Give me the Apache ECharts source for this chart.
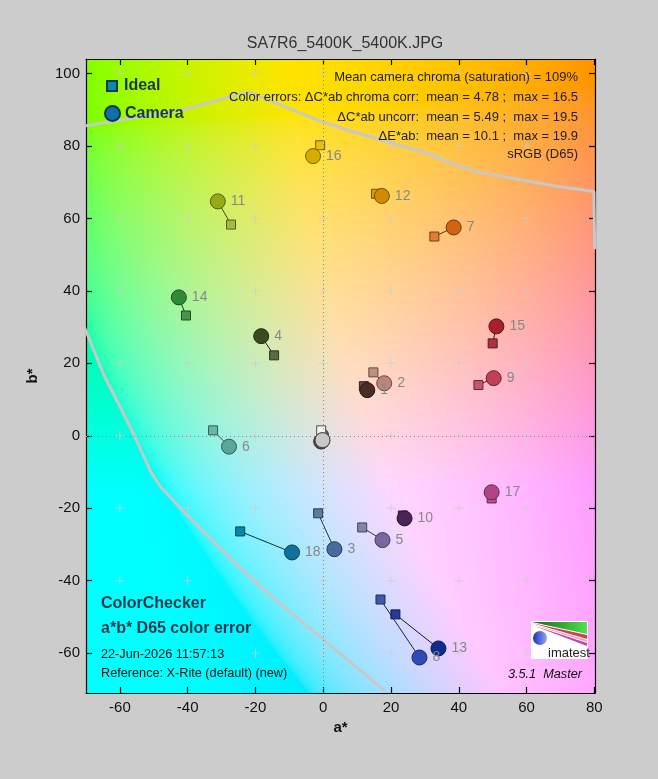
<!DOCTYPE html>
<html>
<head>
<meta charset="utf-8">
<script src="https://cdn.jsdelivr.net/npm/echarts@6/dist/echarts.min.js"></script>
<style>
html,body{margin:0;padding:0;background:#cccccc;}
#chart{width:658px;height:779px;}
</style>
</head>
<body>
<div id="chart"></div>
<script>
// ---------- data ----------
const patchNames = ['1','2','3','4','5','6','7','8','9','10','11','12','13','14','15','16','17','18','24','23','22','21','20','19'];
const idealA = [12.0, 14.8, -1.5, -14.5, 11.5, -32.5, 32.8, 16.9, 45.8, 23.5, -27.2, 15.6, 21.3, -40.5, 50.0, -0.9, 49.7, -24.5, 0.2, 0.0, 0.0, -0.1, -0.3, -0.6];
const idealB = [13.7, 17.5, -21.4, 22.2, -25.3, 1.5, 55.0, -45.2, 14.0, -22.0, 58.3, 66.8, -49.3, 33.2, 25.5, 80.2, -17.3, -26.4, -0.5, -0.3, -0.2, 0.0, 0.3, 1.5];
const cameraA = [13.0, 18.0, 3.3, -18.3, 17.5, -27.8, 38.5, 28.4, 50.3, 24.0, -31.1, 17.3, 34.0, -42.6, 51.1, -3.0, 49.7, -9.2, -0.6, -0.5, -0.4, -0.35, -0.3, -0.2];
const cameraB = [12.6, 14.5, -31.3, 27.5, -28.8, -3.0, 57.5, -61.2, 15.9, -22.8, 64.7, 66.2, -58.7, 38.2, 30.2, 77.2, -15.6, -32.2, -1.6, -1.5, -1.4, -1.35, -1.3, -1.2];
const xTicks = [-60, -40, -20, 0, 20, 40, 60, 80];
const yTicks = [-60, -40, -20, 0, 20, 40, 60, 80, 100];
// sRGB gamut boundary lines
const gamutUpperA = [-70.5, -40.9, -28.1, -21.7, -1.0, 6.4, 31.6, 38.4, 46.3, 68.0, 79.9, 80.1];
const gamutUpperB = [85.5, 90.1, 93.4, 94.8, 86.9, 84.6, 77.7, 75.0, 72.7, 69.0, 67.4, 51.5];
const gamutLowerA = [-70.5, -64.6, -60.6, -55.7, -50.8, -47.8, -40.9, -31.1, -24.6, -17.2, 18.2];
const gamutLowerB = [30.0, 16.5, 9.2, 0.0, -10.1, -14.3, -21.2, -30.4, -36.4, -42.8, -70.4];

// ---------- styles ----------
const cameraColors = ['#4a2c26','#b8867a','#4a6a9c','#3c4a22','#7868a0','#58a89a','#d06412','#2c4cb4','#c04058','#4a2454','#94aa18','#d08c00','#102a90','#308a38','#a82030','#d6ac00','#b04484','#1070a0','#383838','#585858','#787878','#989898','#b4b4b4','#c8c8c8'];
const idealColors = ['#6e4a40','#c0907e','#5a7aa0','#5a6a44','#8282ac','#6ab8a4','#e07c34','#4058a8','#c85468','#5a3a64','#a6ba44','#e09c18','#283c94','#48964c','#b03040','#e8bc10','#c05090','#0888a8','#343434','#555555','#7a7a7a','#a0a0a0','#c8c8c8','#f4f4f4'];
const FONT = '"Liberation Sans", Arial, sans-serif';
const X_MIN = -70, X_MAX = 80.2, Y_MIN = -71, Y_MAX = 104;

function darken(hex, f) {
  const n = parseInt(hex.slice(1), 16);
  const r = Math.round(((n >> 16) & 255) * f), g = Math.round(((n >> 8) & 255) * f), b = Math.round((n & 255) * f);
  return 'rgb(' + r + ',' + g + ',' + b + ')';
}
function isNeutral(i) { return i >= 18; }

const idealData = idealA.map((a, i) => ({
  name: patchNames[i], value: [a, idealB[i]],
  itemStyle: { color: idealColors[i], borderColor: isNeutral(i) ? '#505050' : darken(idealColors[i], 0.5) }
}));
const cameraData = cameraA.map((a, i) => ({
  name: patchNames[i], value: [a, cameraB[i]],
  itemStyle: { color: cameraColors[i], borderColor: isNeutral(i) ? '#404040' : darken(cameraColors[i], 0.55) },
  label: { show: !isNeutral(i) }
}));
const linkData = idealA.map((a, i) => ({
  coords: [[a, idealB[i]], [cameraA[i], cameraB[i]]],
  lineStyle: { color: darken(cameraColors[i], 0.45) }
}));
const crossData = [];
xTicks.filter(v => v < 80).forEach(a => yTicks.forEach(b => crossData.push([a, b])));

const chart = echarts.init(document.getElementById('chart'), null, { renderer: 'canvas' });

const axisCommon = {
  type: 'value',
  axisLine: { show: true, onZero: false, lineStyle: { color: '#000', width: 1.2 } },
  axisTick: { show: true, inside: true, length: 6, lineStyle: { color: '#000', width: 1.2 } },
  splitLine: { show: false }
};

const option = {
  backgroundColor: '#cccccc',
  animation: false,
  title: {
    text: 'SA7R6_5400K_5400K.JPG', left: 340, textAlign: 'center', top: 31,
    textStyle: { fontFamily: FONT, fontSize: 16, fontWeight: 'normal', color: '#333' }
  },
  legend: [
    {
      data: ['Ideal'], left: 101, top: 73, orient: 'vertical',
      itemWidth: 10, itemHeight: 10, icon: 'rect',
      textStyle: { fontFamily: FONT, fontSize: 16, fontWeight: 'bold', color: '#17394d', padding: [0, 0, 0, 2] }
    },
    {
      data: ['Camera'], left: 99, top: 100, orient: 'vertical',
      itemWidth: 15, itemHeight: 15, icon: 'circle',
      textStyle: { fontFamily: FONT, fontSize: 16, fontWeight: 'bold', color: '#17394d', padding: [0, 0, 0, 0] }
    }
  ],
  grid: { left: 86, right: 63, top: 59, bottom: 86, containLabel: false },
  xAxis: [
    Object.assign({}, axisCommon, {
      position: 'bottom', min: X_MIN, max: X_MAX,
      axisTick: Object.assign({}, axisCommon.axisTick, { customValues: xTicks }),
      axisLabel: { customValues: xTicks, fontFamily: FONT, fontSize: 15, color: '#111', margin: 7 },
      name: 'a*', nameLocation: 'middle', nameGap: 23,
      nameTextStyle: { fontFamily: FONT, fontSize: 15, fontWeight: 'bold', color: '#111' }
    }),
    Object.assign({}, axisCommon, {
      position: 'top', min: X_MIN, max: X_MAX,
      axisTick: Object.assign({}, axisCommon.axisTick, { customValues: xTicks }),
      axisLabel: { show: false, customValues: xTicks }
    })
  ],
  yAxis: [
    Object.assign({}, axisCommon, {
      position: 'left', min: Y_MIN, max: Y_MAX,
      axisTick: Object.assign({}, axisCommon.axisTick, { customValues: yTicks }),
      axisLabel: { customValues: yTicks, fontFamily: FONT, fontSize: 15, color: '#111', margin: 6 },
      name: 'b*', nameLocation: 'middle', nameGap: 46,
      nameTextStyle: { fontFamily: FONT, fontSize: 15, fontWeight: 'bold', color: '#111' }
    }),
    Object.assign({}, axisCommon, {
      position: 'right', min: Y_MIN, max: Y_MAX,
      axisTick: Object.assign({}, axisCommon.axisTick, { customValues: yTicks }),
      axisLabel: { show: false, customValues: yTicks }
    })
  ],
  series: [
    {
      name: 'gamutUpper', type: 'line', silent: true, z: 1,
      data: gamutUpperA.map((a, i) => [a, gamutUpperB[i]]),
      showSymbol: false, symbol: 'none', clip: true,
      lineStyle: { color: '#c8c8c8', width: 3 }
    },
    {
      name: 'gamutLower', type: 'line', silent: true, z: 1,
      data: gamutLowerA.map((a, i) => [a, gamutLowerB[i]]),
      showSymbol: false, symbol: 'none', clip: true,
      lineStyle: { color: '#c8c8c8', width: 3 }
    },
    {
      name: 'grid crosses', type: 'scatter', silent: true, z: 1,
      symbol: 'path://M4.5,0h1v10h-1z M0,4.5h10v1h-10z', symbolSize: 9,
      itemStyle: { color: 'rgba(205,205,205,0.95)' },
      data: crossData,
      markLine: {
        silent: true, symbol: 'none', label: { show: false },
        lineStyle: { color: '#888888', type: [1, 3], width: 1 },
        data: [{ xAxis: 0 }, { yAxis: 0 }]
      }
    },
    {
      name: 'links', type: 'lines', coordinateSystem: 'cartesian2d', silent: true, z: 3,
      lineStyle: { width: 1, opacity: 1 },
      data: linkData
    },
    {
      name: 'Ideal', type: 'scatter', z: 4, symbol: 'rect', symbolSize: 9,
      itemStyle: { color: '#0a8aa8', borderColor: '#103848', borderWidth: 1, opacity: 1 },
      data: idealData
    },
    {
      name: 'Camera', type: 'scatter', z: 5, symbol: 'circle', symbolSize: 15,
      itemStyle: { color: '#1070a8', borderColor: '#0e3550', borderWidth: 1, opacity: 1 },
      label: {
        show: true, position: 'right', distance: 5, offset: [1, 7],
        formatter: p => p.name, fontFamily: FONT, fontSize: 14, color: '#888888'
      },
      labelLayout: { hideOverlap: false },
      data: cameraData
    }
  ]
};
chart.setOption(option);

// ---------- background a*b* colour map (decoration) ----------
function lab2rgb(L, a, b) {
  const fy = (L + 16) / 116, fx = fy + a / 500, fz = fy - b / 200;
  const d = 6 / 29;
  const finv = t => t > d ? t * t * t : 3 * d * d * (t - 4 / 29);
  const X = 0.95047 * finv(fx), Y = finv(fy), Z = 1.08883 * finv(fz);
  const r = 3.2406 * X - 1.5372 * Y - 0.4986 * Z;
  const g = -0.9689 * X + 1.8758 * Y + 0.0415 * Z;
  const bl = 0.0557 * X - 0.2040 * Y + 1.0570 * Z;
  const gam = c => { c = Math.min(1, Math.max(0, c)); return c <= 0.0031308 ? 12.92 * c : 1.055 * Math.pow(c, 1 / 2.4) - 0.055; };
  return [gam(r) * 255, gam(g) * 255, gam(bl) * 255];
}
const p0 = chart.convertToPixel({ xAxisIndex: 0, yAxisIndex: 0 }, [X_MIN, Y_MAX]);
const p1 = chart.convertToPixel({ xAxisIndex: 0, yAxisIndex: 0 }, [X_MAX, Y_MIN]);
const bw = Math.round(p1[0] - p0[0]), bh = Math.round(p1[1] - p0[1]);
const cv = document.createElement('canvas');
cv.width = bw; cv.height = bh;
const ctx = cv.getContext('2d');
const img = ctx.createImageData(bw, bh);
for (let j = 0; j < bh; j++) {
  const bv = Y_MAX - (j + 0.5) / bh * (Y_MAX - Y_MIN);
  for (let i = 0; i < bw; i++) {
    const av = X_MIN + (i + 0.5) / bw * (X_MAX - X_MIN);
    const c = lab2rgb(90, av, bv);
    const k = (j * bw + i) * 4;
    img.data[k] = c[0]; img.data[k + 1] = c[1]; img.data[k + 2] = c[2]; img.data[k + 3] = 255;
  }
}
ctx.putImageData(img, 0, 0);

const txt = (x, y, text, extra) => Object.assign({
  type: 'text', silent: true, z: 100,
  style: Object.assign({ x: x, y: y, text: text, fontFamily: FONT, fontSize: 13, fill: '#222', align: 'left', verticalAlign: 'middle' }, extra || {})
});

chart.setOption({
  graphic: [
    { type: 'image', silent: true, z: -10, style: { image: cv, x: p0[0], y: p0[1], width: bw, height: bh } },
    txt(578, 77.5, 'Mean camera chroma (saturation) = 109%', { align: 'right' }),
    txt(578, 97.5, 'Color errors: ΔC*ab chroma corr:  mean = 4.78 ;  max = 16.5', { align: 'right' }),
    txt(578, 117, 'ΔC*ab uncorr:  mean = 5.49 ;  max = 19.5', { align: 'right' }),
    txt(578, 136, 'ΔE*ab:  mean = 10.1 ;  max = 19.9', { align: 'right' }),
    txt(578, 154, 'sRGB (D65)', { align: 'right' }),
    txt(101, 604, 'ColorChecker', { fontSize: 16, fontWeight: 'bold', fill: '#17394d' }),
    txt(101, 629, 'a*b* D65 color error', { fontSize: 16, fontWeight: 'bold', fill: '#17394d' }),
    txt(101, 654, '22-Jun-2026 11:57:13', { fontSize: 12.7, fill: '#111' }),
    txt(101, 673.5, 'Reference: X-Rite (default) (new)', { fontSize: 12.7, fill: '#111' }),
    txt(582, 674, '3.5.1  Master', { align: 'right', fontStyle: 'italic', fontSize: 12.7, fill: '#111' }),
    // imatest logo
    { type: 'rect', silent: true, z: 90, shape: { x: 531, y: 621, width: 57, height: 38 }, style: { fill: '#ffffff' } },
    { type: 'polygon', silent: true, z: 91, shape: { points: [[532, 622], [587, 622], [587, 634]] },
      style: { fill: new echarts.graphic.LinearGradient(0, 0, 1, 0, [{ offset: 0, color: '#0a6a10' }, { offset: 1, color: '#50e050' }]) } },
    { type: 'polygon', silent: true, z: 91, shape: { points: [[532, 623], [587, 635], [587, 639]] }, style: { fill: '#d04050' } },
    { type: 'polygon', silent: true, z: 91, shape: { points: [[532, 624], [587, 640], [587, 642]] }, style: { fill: '#f0a0a8' } },
    { type: 'polygon', silent: true, z: 91, shape: { points: [[532, 625], [587, 643], [587, 646]] }, style: { fill: '#c040c0' } },
    { type: 'circle', silent: true, z: 92, shape: { cx: 540, cy: 638, r: 7 },
      style: { fill: new echarts.graphic.LinearGradient(0, 0, 1, 0, [{ offset: 0, color: '#2030c0' }, { offset: 1, color: '#90a8f0' }]) } },
    txt(548, 653, 'imatest', { fontSize: 13, fill: '#222', z: 93 })
  ]
});
</script>
</body>
</html>
